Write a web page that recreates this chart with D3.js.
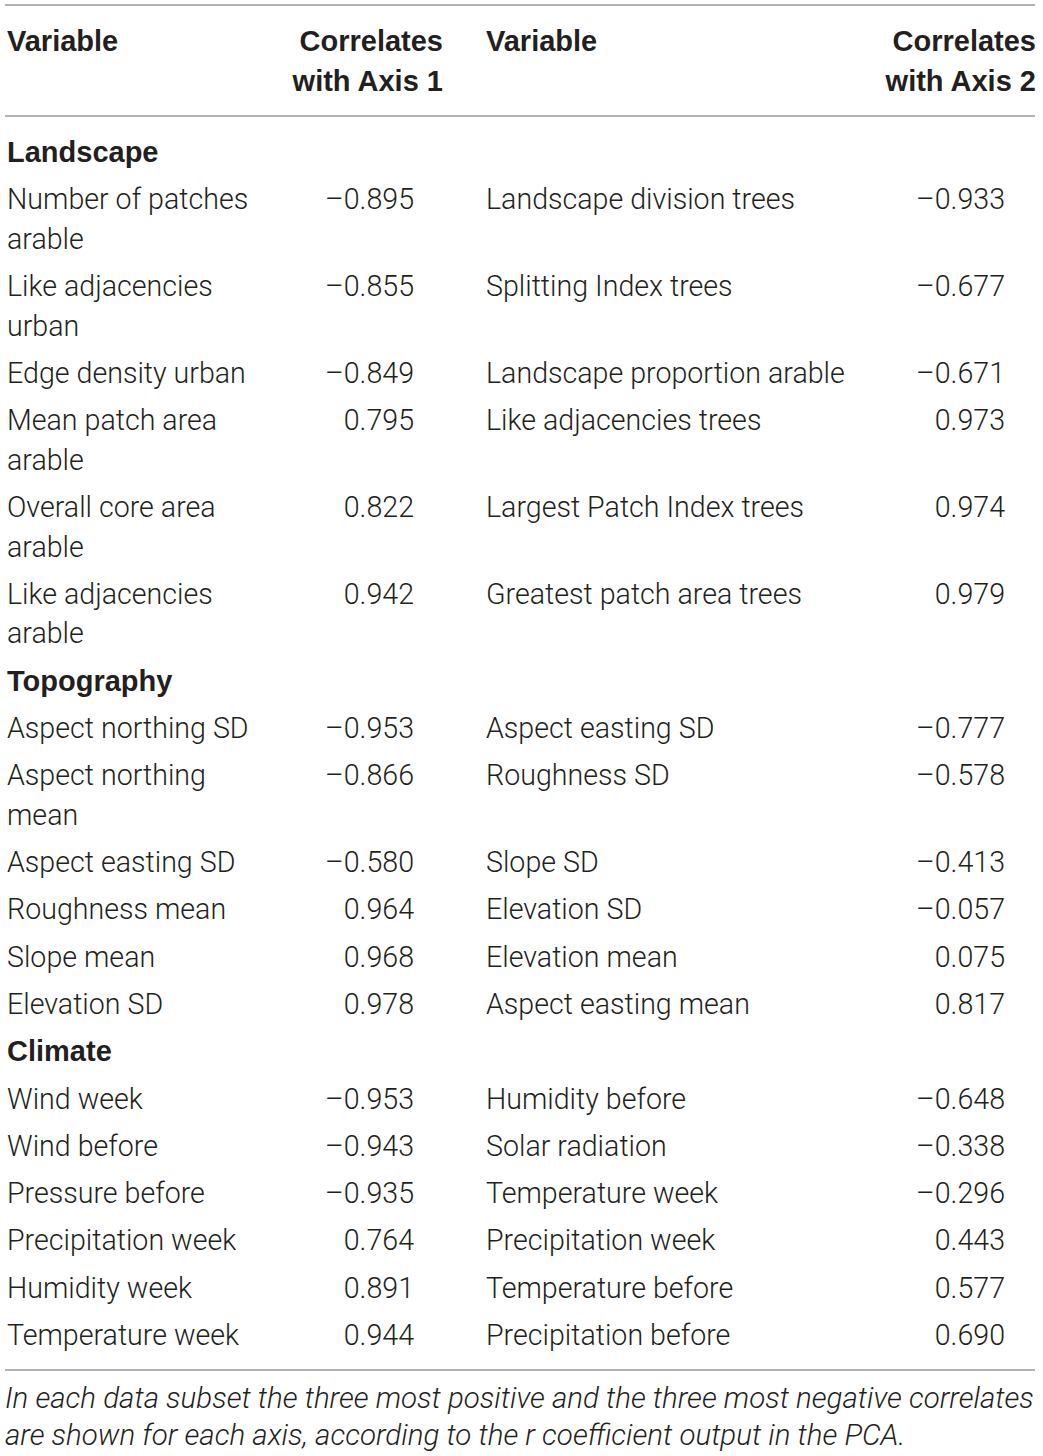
<!DOCTYPE html>
<html>
<head>
<meta charset="utf-8">
<script src="https://cdn.jsdelivr.net/npm/d3@7"></script>
<style>
  body { margin: 0; background: #fff; }
  svg text { fill: #231f20; }
</style>
</head>
<body>
<div id="table"></div>
<script>
// PCA correlates table - variables most correlated with axis 1 and axis 2

const groups = ["Landscape", "Topography", "Climate"];

const headers = ["Variable", "Correlates\nwith Axis 1", "Variable", "Correlates\nwith Axis 2"];

// group index for every data row
const rowGroup = [0, 0, 0, 0, 0, 0, 1, 1, 1, 1, 1, 1, 2, 2, 2, 2, 2, 2];

const axis1Labels = [
  "Number of patches\narable", "Like adjacencies\nurban", "Edge density urban",
  "Mean patch area\narable", "Overall core area\narable", "Like adjacencies\narable",
  "Aspect northing SD", "Aspect northing\nmean", "Aspect easting SD",
  "Roughness mean", "Slope mean", "Elevation SD",
  "Wind week", "Wind before", "Pressure before",
  "Precipitation week", "Humidity week", "Temperature week"
];
const axis1Values = [
  -0.895, -0.855, -0.849, 0.795, 0.822, 0.942,
  -0.953, -0.866, -0.580, 0.964, 0.968, 0.978,
  -0.953, -0.943, -0.935, 0.764, 0.891, 0.944
];

const axis2Labels = [
  "Landscape division trees", "Splitting Index trees", "Landscape proportion arable",
  "Like adjacencies trees", "Largest Patch Index trees", "Greatest patch area trees",
  "Aspect easting SD", "Roughness SD", "Slope SD",
  "Elevation SD", "Elevation mean", "Aspect easting mean",
  "Humidity before", "Solar radiation", "Temperature week",
  "Precipitation week", "Temperature before", "Precipitation before"
];
const axis2Values = [
  -0.933, -0.677, -0.671, 0.973, 0.974, 0.979,
  -0.777, -0.578, -0.413, -0.057, 0.075, 0.817,
  -0.648, -0.338, -0.296, 0.443, 0.577, 0.690
];

const footnote = [
  "In each data subset the three most positive and the three most negative correlates",
  "are shown for each axis, according to the r coefficient output in the PCA."
];

const width = 1043;
const height = 1456;
const bodyFont = "'Helvetica Neue', Roboto, 'Liberation Sans', sans-serif";
const boldFont = "'Helvetica Neue', 'Liberation Sans', Arial, sans-serif";
const fontSize = 28.6;
const boldSize = 29;
const rowStep = 47.3;
const lineStep = 39.5;

// column anchors
const col = { var1: 7, val1: 414, head1: 443, var2: 486, val2: 1005, head2: 1036 };

const fmt = d3.formatLocale({ decimal: ".", thousands: ",", grouping: [3], currency: ["", ""], minus: "\u2013" }).format(".3f");

// build the list of rows (group headings + data rows) with their vertical positions
const rows = [];
let y = 152;
rowGroup.forEach((g, i) => {
  if (i === 0 || rowGroup[i - 1] !== g) {
    rows.push({ type: "group", label: groups[g], y });
    y += rowStep;
  }
  const lines = axis1Labels[i].split("\n");
  rows.push({
    type: "data", y, lines,
    v1: axis1Values[i], l2: axis2Labels[i], v2: axis2Values[i]
  });
  y += rowStep + lineStep * (lines.length - 1);
});

const svg = d3.select("#table")
  .append("svg")
  .attr("width", width)
  .attr("height", height)
  .style("font-family", bodyFont);

// rules
const rules = [5, 116, 1370];
svg.selectAll(".rule")
  .data(rules)
  .enter()
  .append("line")
  .attr("class", "rule")
  .attr("x1", 5)
  .attr("x2", 1035)
  .attr("y1", d => d)
  .attr("y2", d => d)
  .attr("stroke", "#9a9a9a")
  .attr("stroke-width", 1.5);

// header
const headerX = [col.var1, col.head1, col.var2, col.head2];
const headerAnchor = ["start", "end", "start", "end"];
headers.forEach((h, i) => {
  const t = svg.append("text")
    .attr("x", headerX[i])
    .attr("y", 41)
    .attr("dy", "0.35em")
    .attr("text-anchor", headerAnchor[i])
    .style("font-family", boldFont)
    .style("font-size", boldSize + "px")
    .style("font-weight", 700);
  h.split("\n").forEach((line, j) => {
    t.append("tspan")
      .attr("x", headerX[i])
      .attr("y", 41 + j * 40)
      .attr("dy", "0.35em")
      .text(line);
  });
});

// group headings
svg.selectAll(".group")
  .data(rows.filter(r => r.type === "group"))
  .enter()
  .append("text")
  .attr("class", "group")
  .attr("x", col.var1)
  .attr("y", d => d.y)
  .attr("dy", "0.35em")
  .style("font-family", boldFont)
  .style("font-size", boldSize + "px")
  .style("font-weight", 700)
  .text(d => d.label);

// data rows
const dataRows = svg.selectAll(".row")
  .data(rows.filter(r => r.type === "data"))
  .enter()
  .append("g")
  .attr("class", "row")
  .style("font-size", fontSize + "px")
  .style("font-weight", 300);

dataRows.append("text")
  .attr("x", col.var1)
  .each(function(d) {
    d3.select(this).selectAll("tspan")
      .data(d.lines)
      .enter()
      .append("tspan")
      .attr("x", col.var1)
      .attr("y", (l, j) => d.y + j * lineStep)
      .attr("dy", "0.35em")
      .text(l => l);
  });

dataRows.append("text")
  .attr("x", col.val1)
  .attr("y", d => d.y)
  .attr("dy", "0.35em")
  .attr("text-anchor", "end")
  .text(d => fmt(d.v1));

dataRows.append("text")
  .attr("x", col.var2)
  .attr("y", d => d.y)
  .attr("dy", "0.35em")
  .text(d => d.l2);

dataRows.append("text")
  .attr("x", col.val2)
  .attr("y", d => d.y)
  .attr("dy", "0.35em")
  .attr("text-anchor", "end")
  .text(d => fmt(d.v2));

// footnote
svg.selectAll(".foot")
  .data(footnote)
  .enter()
  .append("text")
  .attr("class", "foot")
  .attr("x", 5)
  .attr("y", (d, i) => 1398 + i * 37)
  .attr("dy", "0.35em")
  .style("font-size", "29.5px")
  .style("font-style", "italic")
  .style("font-weight", 300)
  .text(d => d);
</script>
</body>
</html>
